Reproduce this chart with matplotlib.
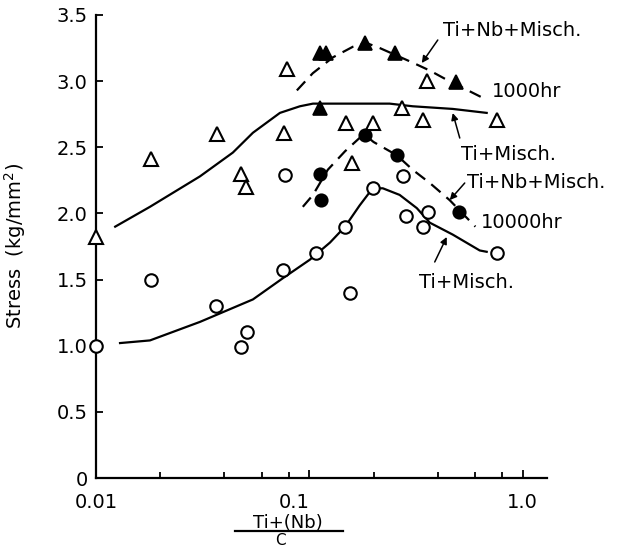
import matplotlib
matplotlib.use('Agg')
import matplotlib.pyplot as plt
from matplotlib.lines import Line2D

plt.rcParams['font.family'] = ['DejaVu Sans']

# ---------------- data ----------------
# Ti+Misch., 1000 hr (open triangles)
tri_open_x = [0.01, 0.0181, 0.0369, 0.0478, 0.0504, 0.076, 0.0784, 0.148, 0.198,
              0.158, 0.271, 0.34, 0.355, 0.755]
tri_open_y = [1.82, 2.41, 2.60, 2.30, 2.20, 2.61, 3.09, 2.68, 2.68,
              2.38, 2.80, 2.71, 3.00, 2.71]
# Ti+Nb+Misch., 1000 hr (filled triangles)
tri_fill_x = [0.112, 0.120, 0.182, 0.252, 0.485, 0.112]
tri_fill_y = [3.21, 3.21, 3.29, 3.21, 2.99, 2.80]
# Ti+Nb+Misch., 10000 hr (filled circles)
cir_fill_x = [0.112, 0.114, 0.182, 0.257, 0.505]
cir_fill_y = [2.30, 2.10, 2.59, 2.44, 2.01]
# Ti+Misch., 10000 hr (open circles)
cir_open_x = [0.01, 0.0181, 0.0365, 0.0478, 0.051, 0.075, 0.077, 0.108, 0.147,
              0.198, 0.274, 0.284, 0.358, 0.342, 0.76, 0.155]
cir_open_y = [1.00, 1.50, 1.30, 0.99, 1.10, 1.57, 2.29, 1.70, 1.90,
              2.19, 2.28, 1.98, 2.01, 1.90, 1.70, 1.40]

# fitted curves
c1_x = [0.0123, 0.0179, 0.0307, 0.0438, 0.0544, 0.0728, 0.0903, 0.104, 0.125,
        0.238, 0.305, 0.47, 0.678]
c1_y = [1.90, 2.05, 2.28, 2.46, 2.61, 2.76, 2.81, 2.83, 2.83,
        2.83, 2.81, 2.79, 2.76]
c2_x = [0.0874, 0.1038, 0.129, 0.160, 0.184, 0.214, 0.305, 0.367, 0.441, 0.657]
c2_y = [2.93, 3.06, 3.18, 3.26, 3.29, 3.25, 3.14, 3.08, 3.01, 2.87]
c3_x = [0.0932, 0.104, 0.122, 0.147, 0.180, 0.200, 0.257, 0.305, 0.367, 0.455, 0.60]
c3_y = [2.05, 2.14, 2.33, 2.47, 2.60, 2.54, 2.44, 2.33, 2.23, 2.10, 1.90]
c4_x = [0.01296, 0.0179, 0.0307, 0.0544, 0.0751, 0.1005, 0.125, 0.147, 0.172,
        0.198, 0.221, 0.265, 0.319, 0.367, 0.47, 0.629, 0.678]
c4_y = [1.02, 1.04, 1.18, 1.35, 1.51, 1.65, 1.78, 1.90, 2.06,
        2.19, 2.19, 2.14, 2.04, 1.93, 1.84, 1.72, 1.71]

x_ticks = [0.01, 0.1, 1.0]
x_ticklabels = ['0.01', '0.1', '1.0']
x_minor = [0.02, 0.04, 0.06, 0.08, 0.2, 0.4, 0.6, 0.8]
y_ticks = [0, 0.5, 1.0, 1.5, 2.0, 2.5, 3.0, 3.5]
y_ticklabels = ['0', '0.5', '1.0', '1.5', '2.0', '2.5', '3.0', '3.5']

# ---------------- figure ----------------
fig = plt.figure(figsize=(6.33, 5.47), dpi=100)
ax = fig.add_axes([96 / 633, 1 - 478 / 547, 451 / 633, 463 / 547])
ax.set_xscale('log')
ax.set_xlim(0.01, 1.3)
ax.set_ylim(0, 3.5)

lw = 1.6
ax.plot(c1_x, c1_y, color='black', lw=lw, zorder=2)
ax.plot(c2_x, c2_y, color='black', lw=lw, ls=(0, (5.5, 3.5)), zorder=2)
ax.plot(c3_x, c3_y, color='black', lw=lw, ls=(0, (5.5, 3.5)), zorder=2)
ax.plot(c4_x, c4_y, color='black', lw=lw, zorder=2)

ax.plot(tri_open_x, tri_open_y, ls='none', marker='^', ms=10, mfc='white',
        mec='black', mew=1.5, zorder=3, clip_on=False)
ax.plot(tri_fill_x, tri_fill_y, ls='none', marker='^', ms=10, mfc='black',
        mec='black', mew=1.2, zorder=3, clip_on=False)
ax.plot(cir_fill_x, cir_fill_y, ls='none', marker='o', ms=9, mfc='black',
        mec='black', mew=1.2, zorder=3, clip_on=False)
ax.plot(cir_open_x, cir_open_y, ls='none', marker='o', ms=9, mfc='white',
        mec='black', mew=1.5, zorder=3, clip_on=False)

# axes styling
for s in ['top', 'right']:
    ax.spines[s].set_visible(False)
for s in ['left', 'bottom']:
    ax.spines[s].set_linewidth(1.6)

ax.set_xticks(x_ticks)
ax.set_xticklabels(x_ticklabels)
ax.set_xticks(x_minor, minor=True)
ax.xaxis.set_minor_formatter(plt.NullFormatter())
ax.set_yticks(y_ticks)
ax.set_yticklabels(y_ticklabels)
ax.tick_params(axis='x', which='major', direction='in', length=6, width=1.3,
               labelsize=14, pad=11)
ax.tick_params(axis='x', which='minor', direction='in', length=4, width=1.3)
ax.tick_params(axis='y', which='major', direction='in', length=5, width=1.3,
               labelsize=14, pad=6)
ax.xaxis.get_majorticklabels()[1].set_horizontalalignment('right')

ax.set_ylabel('Stress  (kg/mm$^2$)', fontsize=14)
ax.yaxis.set_label_coords(-0.15, 0.5)

# x-axis label as fraction
ax.text(0.426, -0.097, 'Ti+(Nb)', transform=ax.transAxes, ha='center',
        va='center', fontsize=13)
ax.add_line(Line2D([0.308, 0.548], [-0.115, -0.115], transform=ax.transAxes,
                   color='black', lw=1.6, clip_on=False))
ax.text(0.408, -0.118, 'C', transform=ax.transAxes, ha='center', va='top',
        fontsize=11)

# annotations
fs = 14
ax.text(0.422, 3.386, 'Ti+Nb+Misch.', ha='left', va='center', fontsize=fs)
ax.text(0.716, 2.918, '1000hr', ha='left', va='center', fontsize=fs)
ax.text(0.512, 2.449, 'Ti+Misch.', ha='left', va='center', fontsize=fs)
ax.text(0.547, 2.237, 'Ti+Nb+Misch.', ha='left', va='center', fontsize=fs)
ax.text(0.636, 1.935, '10000hr', ha='left', va='center', fontsize=fs)
ax.text(0.326, 1.481, 'Ti+Misch.', ha='left', va='center', fontsize=fs)

ap = dict(arrowstyle='-|>', color='black', lw=1.1, mutation_scale=10,
          shrinkA=0, shrinkB=0)
ax.annotate('', xy=(0.3365, 3.137), xytext=(0.400, 3.311), arrowprops=ap)
ax.annotate('', xy=(0.470, 2.759), xytext=(0.507, 2.570), arrowprops=ap)
ax.annotate('', xy=(0.455, 2.101), xytext=(0.535, 2.230), arrowprops=ap)
ax.annotate('', xy=(0.4406, 1.822), xytext=(0.387, 1.633), arrowprops=ap)

fig.savefig('out.png', dpi=100)
